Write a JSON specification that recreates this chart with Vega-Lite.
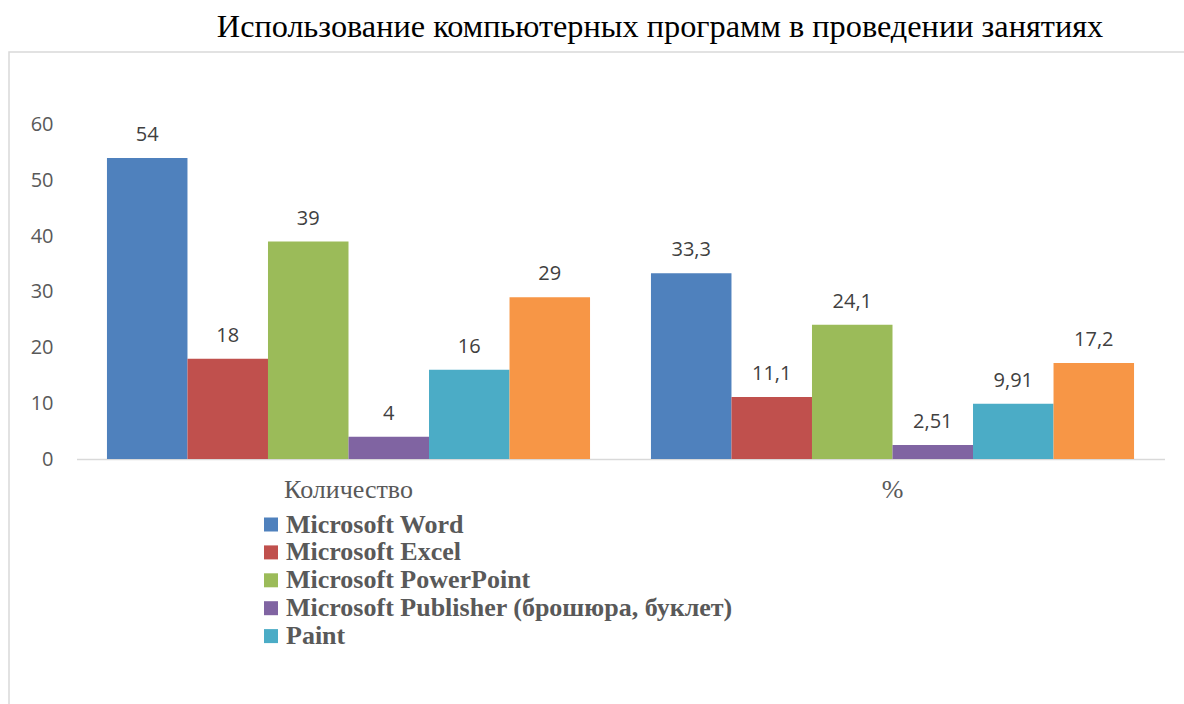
{
  "$schema": "https://vega.github.io/schema/vega-lite/v6.json",
  "width": 1185,
  "height": 660,
  "autosize": {"type": "none"},
  "padding": {"left": 9, "top": 52, "right": 0, "bottom": 0},
  "title": {
    "text": "Использование компьютерных программ в проведении  занятиях",
    "anchor": "middle",
    "frame": "group",
    "dx": 58.5,
    "dy": 33,
    "offset": 16,
    "baseline": "alphabetic",
    "font": "Liberation Serif",
    "fontSize": 32.3,
    "fontWeight": "normal",
    "color": "#000000"
  },
  "config": {
    "view": {"stroke": "#d9d9d9", "strokeWidth": 1.5},
    "axis": {"grid": false},
    "locale": {
      "number": {"decimal": ",", "thousands": " ", "grouping": [3], "currency": ["", " ₽"]}
    }
  },
  "data": {
    "values": [
      {"category": "Количество", "series": "Microsoft Word", "value": 54},
      {"category": "Количество", "series": "Microsoft Excel", "value": 18},
      {"category": "Количество", "series": "Microsoft PowerPoint", "value": 39},
      {"category": "Количество", "series": "Microsoft Publisher (брошюра, буклет)", "value": 4},
      {"category": "Количество", "series": "Paint", "value": 16},
      {"category": "Количество", "series": "Другое", "value": 29},
      {"category": "%", "series": "Microsoft Word", "value": 33.3},
      {"category": "%", "series": "Microsoft Excel", "value": 11.1},
      {"category": "%", "series": "Microsoft PowerPoint", "value": 24.1},
      {"category": "%", "series": "Microsoft Publisher (брошюра, буклет)", "value": 2.51},
      {"category": "%", "series": "Paint", "value": 9.91},
      {"category": "%", "series": "Другое", "value": 17.2}
    ]
  },
  "encoding": {
    "x": {
      "field": "category",
      "type": "nominal",
      "sort": ["Количество", "%"],
      "scale": {"range": [67.5, 1155.5], "paddingInner": 0.112, "paddingOuter": 0.056},
      "axis": {
        "title": null,
        "labelAngle": 0,
        "domain": true,
        "domainColor": "#d9d9d9",
        "domainWidth": 1.5,
        "ticks": false,
        "tickSize": 0,
        "labelPadding": 38,
        "labelBaseline": "alphabetic",
        "offset": -253,
        "labelFont": "Liberation Serif",
        "labelFontSize": 26,
        "labelColor": "#595959"
      }
    },
    "xOffset": {
      "field": "series",
      "type": "nominal",
      "sort": ["Microsoft Word", "Microsoft Excel", "Microsoft PowerPoint", "Microsoft Publisher (брошюра, буклет)", "Paint", "Другое"],
      "scale": {"paddingInner": 0, "paddingOuter": 0}
    },
    "y": {
      "field": "value",
      "type": "quantitative",
      "scale": {"domain": [0, 60], "range": [407, 72.5], "nice": false, "zero": true},
      "axis": {
        "title": null,
        "values": [0, 10, 20, 30, 40, 50, 60],
        "domain": false,
        "ticks": false,
        "tickSize": 0,
        "grid": false,
        "labelPadding": 0,
        "offset": -44,
        "labelFont": "Open Sans",
        "labelFontSize": 20,
        "labelColor": "#595959"
      }
    }
  },
  "layer": [
    {
      "mark": {"type": "bar"},
      "encoding": {
        "color": {
          "field": "series",
          "type": "nominal",
          "scale": {
            "domain": ["Microsoft Word", "Microsoft Excel", "Microsoft PowerPoint", "Microsoft Publisher (брошюра, буклет)", "Paint", "Другое"],
            "range": ["#4F81BD", "#C0504D", "#9BBB59", "#8064A2", "#4BACC6", "#F79646"]
          },
          "legend": {
            "orient": "none",
            "legendX": 249,
            "legendY": 459.5,
            "direction": "vertical",
            "title": null,
            "values": ["Microsoft Word", "Microsoft Excel", "Microsoft PowerPoint", "Microsoft Publisher (брошюра, буклет)", "Paint"],
            "symbolType": "square",
            "symbolSize": 196,
            "symbolStrokeWidth": 0,
            "symbolOpacity": 1,
            "labelFont": "Liberation Serif",
            "labelFontSize": 26,
            "labelFontWeight": "bold",
            "labelColor": "#595959",
            "labelLimit": 700,
            "labelOffset": 2,
            "rowPadding": 1.9,
            "padding": 0
          }
        }
      }
    },
    {
      "mark": {"type": "text", "baseline": "alphabetic", "dy": -17, "font": "Open Sans", "fontSize": 20, "color": "#404040"},
      "encoding": {
        "text": {"field": "value", "type": "quantitative", "format": ".3~r"}
      }
    }
  ]
}
